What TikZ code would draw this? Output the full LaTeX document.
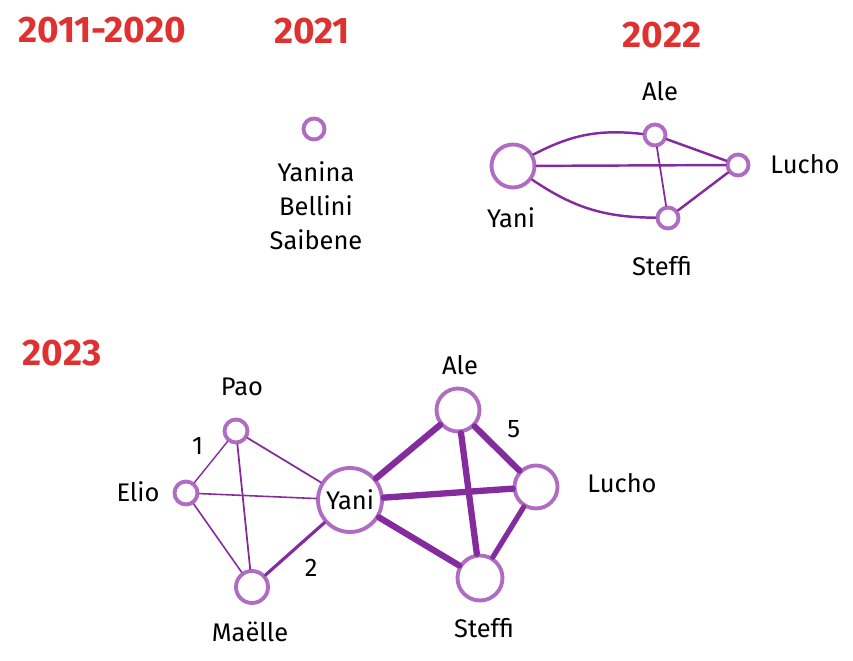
\documentclass[tikz,border=0pt]{standalone}
\usepackage{fontspec}
\setmainfont{Fira Sans}
\usetikzlibrary{positioning}
\definecolor{yearred}{HTML}{E03131}
\definecolor{ringviolet}{HTML}{B06CC2}
\definecolor{linkviolet}{HTML}{842C9E}
\tikzset{
	year/.style={text=yearred, font=\fontsize{21}{24}\selectfont\bfseries},
	who/.style={font=\fontsize{14.5}{19.3}\selectfont},
	person/.style={circle, draw=ringviolet, line width=2.2pt, fill=white,
			inner sep=0pt, minimum size=#1},
	link/.style={draw=linkviolet, line width=#1, line cap=round}
}

\begin{document}
\begin{tikzpicture}[x={(0.02cm,0)}, y={(0,-0.02cm)}]
		\useasboundingbox (0,0) rectangle (853,661);

		% Years
		\node[year] (yold) at (102,30) {2011-2020};
		\node[year] (yone) at (312,31) {2021};
		\node[year] (ytwo) at (662,35) {2022};
		\node[year] (ythree) at (62,353) {2023};

		% 2021
		\node[person=0.42cm] (solo) at (314,129) {};
		\node[who, align=center] (soloname) at (316,206) {Yanina\\Bellini\\Saibene};

		% 2022 people
		\node[person=0.86cm] (yaniB) at (513,166) {};
		\node[person=0.42cm] (aleB) at (655,135) {};
		\node[person=0.42cm] (luchoB) at (738,165) {};
		\node[person=0.42cm] (steffiB) at (668,218) {};
		\node[who] (yaniBname) at (511,218) {Yani};
		\node[who] (aleBname) at (660,91) {Ale};
		\node[who] (luchoBname) at (805,164) {Lucho};
		\node[who] (steffiBname) at (662,266) {Steffi};

		% 2022 links
		\draw[link=1.4pt] (yaniB) to[bend left=17] (aleB);
		\draw[link=1.4pt] (yaniB) -- (luchoB);
		\draw[link=1.4pt] (yaniB) to[bend right=17] (steffiB);
		\draw[link=1.4pt] (aleB) -- (luchoB);
		\draw[link=1pt] (aleB) -- (steffiB);
		\draw[link=1.4pt] (steffiB) -- (luchoB);

		% 2023 people
		\node[person=0.46cm] (pao) at (236,431) {};
		\node[person=0.46cm] (elio) at (186,493) {};
		\node[person=0.64cm] (maelle) at (252,587) {};
		\node[person=1.28cm, who] (yaniC) at (350,500) {Yani};
		\node[person=0.86cm] (aleC) at (458,410) {};
		\node[person=0.86cm] (luchoC) at (536,487) {};
		\node[person=0.9cm] (steffiC) at (480,578) {};
		\node[who] (paoname) at (242,387) {Pao};
		\node[who] (elioname) at (138,492) {Elio};
		\node[who] (maellename) at (250,632) {Maëlle};
		\node[who] (aleCname) at (460,365) {Ale};
		\node[who] (luchoCname) at (622,483) {Lucho};
		\node[who] (steffiCname) at (484,628) {Steffi};

		% 2023 links
		\draw[link=0.8pt] (pao) -- node[who, above left=1pt] (wone) {1} (elio);
		\draw[link=1pt] (pao) -- (yaniC);
		\draw[link=1pt] (pao) -- (maelle);
		\draw[link=0.9pt] (elio) -- (yaniC);
		\draw[link=0.9pt] (elio) -- (maelle);
		\draw[link=1.8pt] (maelle) -- node[who, below right=2pt] (wtwo) {2} (yaniC);
		\draw[link=3.6pt] (yaniC) -- (aleC);
		\draw[link=3.6pt] (yaniC) -- (luchoC);
		\draw[link=3.6pt] (yaniC) -- (steffiC);
		\draw[link=3.6pt] (aleC) -- node[who, above right=1pt] (wfive) {5} (luchoC);
		\draw[link=3.6pt] (aleC) -- (steffiC);
		\draw[link=3pt] (luchoC) -- (steffiC);
	\end{tikzpicture}
\end{document}
